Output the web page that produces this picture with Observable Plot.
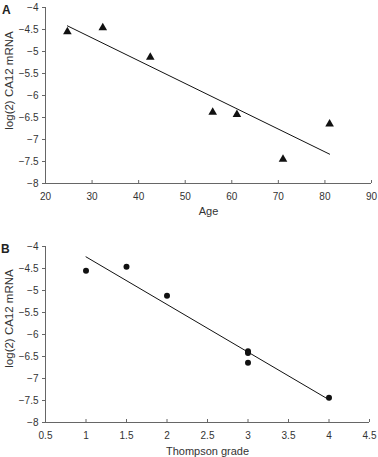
<!DOCTYPE html>
<html>
<head>
<meta charset="utf-8">
<script src="https://cdn.jsdelivr.net/npm/d3@7"></script>
<script src="https://cdn.jsdelivr.net/npm/@observablehq/plot@0.6"></script>
<style>
  html, body { margin: 0; padding: 0; background: #fff; }
  #wrap { position: relative; width: 378px; height: 457px; font-family: "Liberation Sans", Arial, sans-serif; }
  #wrap svg { display: block; }
  .panel { position: absolute; font-weight: bold; font-size: 12px; color: #222; line-height: 1; }
</style>
</head>
<body>
<div id="wrap">
  <div id="a"></div>
  <div id="b"></div>
  <div class="panel" style="left:2px;top:4px;">A</div>
  <div class="panel" style="left:1px;top:243px;">B</div>
</div>
<script>
// Panel A: age vs log(2) CA12 mRNA
const ageX = [24.7, 32.3, 42.5, 55.9, 61.1, 71.0, 81.0];
const ageY = [-4.55, -4.46, -5.13, -6.38, -6.43, -7.45, -6.65];
const ageTicks = [20, 30, 40, 50, 60, 70, 80, 90];

// Panel B: Thompson grade vs log(2) CA12 mRNA
const gradeX = [1.0, 1.5, 2.0, 3.0, 3.0, 3.0, 4.0];
const gradeY = [-4.55, -4.46, -5.12, -6.38, -6.42, -6.64, -7.44];
const gradeTicks = [0.5, 1, 1.5, 2, 2.5, 3, 3.5, 4, 4.5];

const yTicks = [-4, -4.5, -5, -5.5, -6, -6.5, -7, -7.5, -8];
const yLabel = "log(2) CA12 mRNA";

const fmt = d => String(d).replace("-", "\u2212");
const axisColor = "#666";
const textColor = "#333";

function panel({xs, ys, xTicks, xDomain, xLabel, symbol, r, height, marginTop, marginBottom, marginRight, xLabelDy, yLabelDy}) {
  const data = xs.map((x, i) => ({x, y: ys[i]}));
  return Plot.plot({
    width: 378,
    height,
    marginTop,
    marginBottom,
    marginLeft: 45,
    marginRight,
    style: {fontFamily: "'Liberation Sans', Arial, sans-serif", fontSize: "10px", color: textColor, background: "#fff"},
    x: {domain: xDomain, label: null},
    y: {domain: [-8, -4], label: null},
    marks: [
      Plot.ruleY([-8], {stroke: axisColor}),
      Plot.ruleX([xDomain[0]], {stroke: axisColor}),
      Plot.ruleX(xTicks, {x: d => d, y1: -8, y2: -8, insetTop: -3, stroke: axisColor}),
      Plot.axisX({ticks: xTicks, tickSize: 0, tickPadding: 9, tickFormat: fmt, fill: textColor, label: null}),
      Plot.axisY({ticks: yTicks, tickSize: 3, tickPadding: 4, tickFormat: fmt, stroke: axisColor, fill: textColor, label: null}),
      Plot.linearRegressionY(data, {x: "x", y: "y", ci: 0, stroke: "#111", strokeWidth: 1}),
      Plot.dot(data, {x: "x", y: "y", symbol, r, fill: "#111", stroke: null}),
      Plot.text([xLabel], {frameAnchor: "bottom", dy: xLabelDy, text: d => d, fill: textColor, fontSize: 11}),
      Plot.text([yLabel], {frameAnchor: "left", textAnchor: "middle", rotate: -90, dx: -36, dy: yLabelDy, text: d => d, fill: textColor, fontSize: 11.5})
    ]
  });
}

document.getElementById("a").append(panel({
  xs: ageX, ys: ageY, xTicks: ageTicks, xDomain: [20, 90], xLabel: "Age",
  symbol: "triangle", r: 3.2, height: 225, marginTop: 7, marginBottom: 42, marginRight: 7,
  xLabelDy: 31, yLabelDy: -15
}));
document.getElementById("b").append(panel({
  xs: gradeX, ys: gradeY, xTicks: gradeTicks, xDomain: [0.5, 4.5], xLabel: "Thompson grade",
  symbol: "circle", r: 3, height: 232, marginTop: 21, marginBottom: 35, marginRight: 9,
  xLabelDy: 32, yLabelDy: -16
}));
</script>
</body>
</html>
